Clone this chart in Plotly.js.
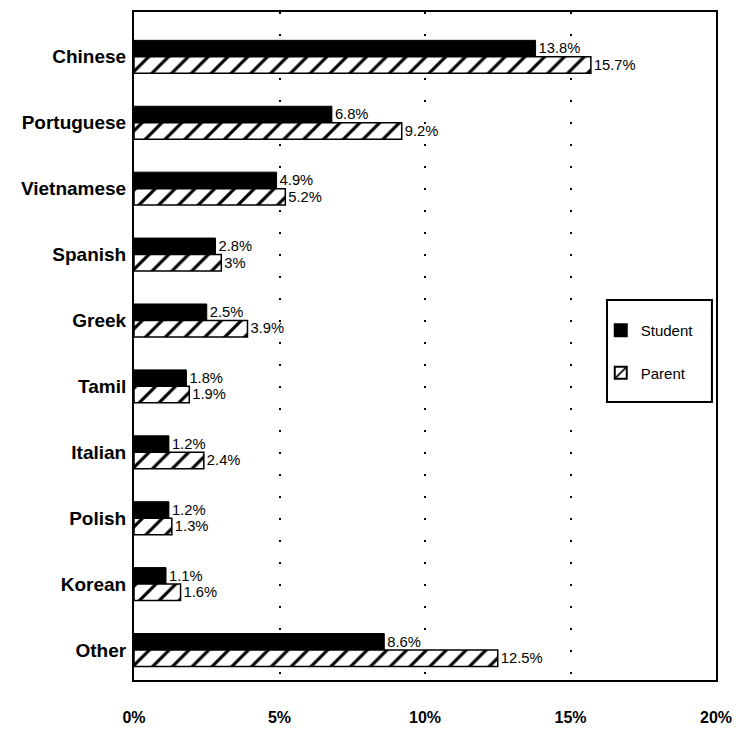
<!DOCTYPE html>
<html><head><meta charset="utf-8">
<script src="https://cdn.plot.ly/plotly-3.0.1.min.js"></script>
<style>body{margin:0;background:#fff}#c{width:740px;height:732px}</style>
</head><body><div id="c"></div>
<script>
var languages = ["Chinese","Portuguese","Vietnamese","Spanish","Greek","Tamil","Italian","Polish","Korean","Other"];
var student = [13.8, 6.8, 4.9, 2.8, 2.5, 1.8, 1.2, 1.2, 1.1, 8.6];
var parent = [15.7, 9.2, 5.2, 3, 3.9, 1.9, 2.4, 1.3, 1.6, 12.5];
var xTicks = [0, 5, 10, 15, 20];
var xTickLabels = ["0%","5%","10%","15%","20%"];

var fam = "'Liberation Sans Narrow', 'Arial Narrow', 'Liberation Sans', Arial, sans-serif";
var traces = [
  {type:'bar', orientation:'h', name:'Student', legendgroup:'s', y:languages, x:student,
   marker:{color:'#000', line:{color:'#000', width:1}},
   text: student.map(function(v){return v+'%';}), textposition:'outside', cliponaxis:false,
   textfont:{family:fam, size:17, color:'#000'}},
  {type:'bar', orientation:'h', name:'Parent', legendgroup:'p', y:languages, x:parent,
   marker:{color:'#fff', line:{color:'#000', width:1.5},
           pattern:{shape:'/', fgcolor:'#000', bgcolor:'#fff', size:14, solidity:0.22}},
   text: parent.map(function(v){return v+'%';}), textposition:'outside', cliponaxis:false,
   textfont:{family:fam, size:17, color:'#000'}}
];
var layout = {
  width:740, height:732, margin:{l:134, r:24, t:12, b:52},
  paper_bgcolor:'#fff', plot_bgcolor:'#fff',
  barmode:'group', bargap:0.5, bargroupgap:0,
  showlegend:true,
  legend:{x:0.802, y:0.548, xanchor:'left', yanchor:'top', borderwidth:0,
          bgcolor:'rgba(0,0,0,0)', font:{family:fam, size:15, color:'#000'}, traceorder:'grouped',
          tracegroupgap:20, itemsizing:'constant'},
  shapes:[{type:'rect', xref:'paper', yref:'paper', x0:0.8127, x1:0.993, y0:0.4162, y1:0.5689,
           line:{color:'#000', width:2}, fillcolor:'#fff', layer:'below'}],
  xaxis:{range:[0,20], tickvals:xTicks, ticktext:xTickLabels, showgrid:true, gridcolor:'#000',
         griddash:'2px,20px', gridwidth:2, zeroline:false, showline:true, linecolor:'#000', linewidth:2,
         mirror:true, ticks:'', ticklabelstandoff:22,
         tickfont:{family:fam, size:16, color:'#000', weight:'bold'}},
  yaxis:{type:'category', categoryarray:languages, range:[9.455, -0.68], showgrid:false,
         zeroline:false, showline:true, linecolor:'#000', linewidth:2, mirror:true, ticks:'',
         ticklabelstandoff:2,
         tickfont:{family:fam, size:19, color:'#000', weight:'bold'}}
};
Plotly.newPlot('c', traces, layout, {displayModeBar:false, staticPlot:true});
</script></body></html>
